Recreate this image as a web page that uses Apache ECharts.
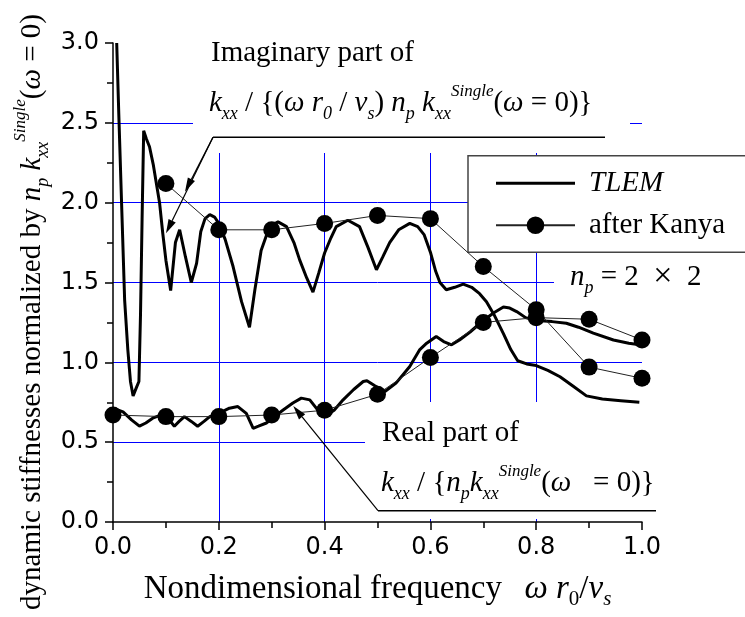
<!DOCTYPE html>
<html><head><meta charset="utf-8">
<script src="https://cdn.jsdelivr.net/npm/echarts@6/dist/echarts.min.js"></script>
<style>html,body{margin:0;padding:0;background:#fff}#c{width:745px;height:617px}</style>
</head><body><div id="c"></div>
<script>
// ---- data ----
const tlemImag = [[0.007,3.00],[0.011,2.55],[0.016,2.02],[0.022,1.39],[0.028,1.08],[0.033,0.88],[0.038,0.79],[0.044,0.84],[0.049,0.88],[0.052,1.30],[0.055,1.90],[0.058,2.45],[0.063,2.40],[0.069,2.35],[0.076,2.24],[0.082,2.12],[0.088,2.00],[0.094,1.81],[0.100,1.64],[0.109,1.45],[0.118,1.75],[0.126,1.83],[0.137,1.66],[0.148,1.50],[0.158,1.62],[0.166,1.82],[0.174,1.90],[0.183,1.925],[0.192,1.91],[0.200,1.87],[0.212,1.77],[0.227,1.60],[0.243,1.38],[0.258,1.22],[0.268,1.45],[0.280,1.70],[0.296,1.85],[0.312,1.88],[0.328,1.85],[0.342,1.75],[0.353,1.64],[0.366,1.53],[0.378,1.44],[0.389,1.56],[0.400,1.685],[0.412,1.78],[0.422,1.85],[0.444,1.89],[0.466,1.85],[0.482,1.72],[0.498,1.58],[0.510,1.66],[0.523,1.75],[0.540,1.83],[0.561,1.87],[0.576,1.85],[0.588,1.80],[0.600,1.69],[0.610,1.57],[0.618,1.50],[0.630,1.455],[0.646,1.47],[0.662,1.49],[0.678,1.47],[0.693,1.43],[0.706,1.38],[0.720,1.30],[0.738,1.18],[0.752,1.08],[0.765,1.01],[0.782,0.99],[0.800,0.98],[0.822,0.95],[0.845,0.91],[0.870,0.85],[0.895,0.79],[0.925,0.77],[0.960,0.76],[0.995,0.75]];
const tlemReal = [[0.000,0.713],[0.019,0.69],[0.035,0.64],[0.050,0.60],[0.062,0.62],[0.075,0.65],[0.090,0.67],[0.100,0.665],[0.116,0.60],[0.125,0.63],[0.135,0.66],[0.148,0.63],[0.160,0.60],[0.172,0.63],[0.183,0.66],[0.200,0.68],[0.220,0.713],[0.236,0.723],[0.252,0.68],[0.265,0.587],[0.275,0.60],[0.290,0.62],[0.305,0.66],[0.321,0.70],[0.340,0.745],[0.356,0.776],[0.372,0.765],[0.385,0.71],[0.400,0.66],[0.418,0.70],[0.435,0.765],[0.455,0.83],[0.473,0.88],[0.480,0.885],[0.495,0.853],[0.514,0.817],[0.535,0.87],[0.561,0.974],[0.580,1.08],[0.593,1.12],[0.611,1.162],[0.625,1.13],[0.640,1.11],[0.655,1.14],[0.675,1.19],[0.700,1.262],[0.720,1.31],[0.738,1.346],[0.750,1.34],[0.763,1.318],[0.780,1.28],[0.800,1.262],[0.830,1.255],[0.857,1.245],[0.880,1.22],[0.908,1.183],[0.946,1.14],[0.975,1.12],[0.996,1.11]];
const kanyaImagX = [0.1,0.2,0.3,0.4,0.5,0.6,0.7,0.8,0.9,1.0];
const kanyaImagY = [2.12,1.83,1.83,1.87,1.92,1.90,1.60,1.33,0.97,0.90];
const kanyaRealX = [0.0,0.1,0.2,0.3,0.4,0.5,0.6,0.7,0.8,0.9,1.0];
const kanyaRealY = [0.67,0.66,0.66,0.67,0.70,0.80,1.03,1.25,1.28,1.27,1.14];
const xTickLabels = ['0.0','0.2','0.4','0.6','0.8','1.0'];
const yTickLabels = ['0.0','0.5','1.0','1.5','2.0','2.5','3.0'];
const legendNames = ['TLEM','after Kanya'];

// ---- styling ----
const SERIF = "'Liberation Serif','Times New Roman',serif";
const SANS = "'DejaVu Sans',Arial,sans-serif";
function rs(size, italic, va, lh, pad) {
  const o = {fontFamily: SERIF, fontSize: size, fontStyle: italic ? 'italic' : 'normal', fill: '#000', color: '#000'};
  if (va) o.verticalAlign = va;
  if (lh) o.lineHeight = lh;
  if (pad) o.padding = pad;
  return o;
}
const RICH = {
  t: rs(29, false, null, 40),
  i: rs(29, true, null, 40),
  sub: rs(18, true, 'bottom'),
  subu: rs(18, false, 'bottom'),
  sup: rs(17, true, 'top'),
  x: rs(34, false, null, 40)
};
const XRICH = {
  t: rs(33, false, null, 42),
  i: rs(33, true, null, 42),
  w: rs(33, true, null, 42, [0, 0, 0, 6]),
  sub: rs(21, true, 'bottom'),
  subu: rs(21, false, 'bottom')
};

const chart = echarts.init(document.getElementById('c'), null, {renderer: 'canvas'});
const grid = {left: 113, right: 103, top: 43, bottom: 95};

function arrow(x1, y1, x2, y2) {
  const dx = x2 - x1, dy = y2 - y1, L = Math.hypot(dx, dy);
  const ux = dx / L, uy = dy / L, hl = 14, hw = 4;
  const bx = x2 - ux * hl, by = y2 - uy * hl;
  return [
    {type: 'line', shape: {x1, y1, x2: bx, y2: by}, style: {stroke: '#000', lineWidth: 1.2}, z: 6, silent: true},
    {type: 'polygon', shape: {points: [[x2, y2], [bx - uy * hw, by + ux * hw], [bx + uy * hw, by - ux * hw]]}, style: {fill: '#000'}, z: 6, silent: true}
  ];
}
function whiteBox(x, y, w, h) {
  return {type: 'rect', shape: {x, y, width: w, height: h}, style: {fill: '#fff'}, z: 1, silent: true};
}
function txt(x, y, text, extra) {
  return Object.assign({type: 'text', x, y, z: 6, silent: true,
    style: {text, fontFamily: SERIF, fontSize: 29, lineHeight: 40, fill: '#000', align: 'left', verticalAlign: 'top', rich: RICH}}, extra || {});
}

const yTitle = txt(32, 312, 'dynamic stiffnesses normalized by {i|n}{sub|p}{t| }{i|k}{sub|xx}{sup|Single}{t|(}{i|\u03c9}{t| = 0)}',
  {rotation: Math.PI / 2});
yTitle.style.align = 'center';
yTitle.style.verticalAlign = 'middle';

const graphics = [
  whiteBox(193, 20, 437, 133),
  whiteBox(554, 262, 160, 40),
  whiteBox(365, 402, 300, 117),
  txt(211, 33, 'Imaginary part of'),
  txt(209, 83, '{i|k}{sub|xx}{t| / {(}{i|\u03c9 r}{sub|0}{t| / }{i|v}{sub|s}{t|) }{i|n}{sub|p}{t| }{i|k}{sub|xx}{sup|Single}{t|(}{i|\u03c9}{t| = 0)}}'),
  {type: 'line', shape: {x1: 213, y1: 137.3, x2: 605, y2: 137.3}, style: {stroke: '#000', lineWidth: 1.5}, z: 6, silent: true},
  ...arrow(213, 137.3, 185, 191.7),
  ...arrow(213, 137.3, 166, 233.3),
  txt(382, 413, 'Real part of'),
  txt(381, 463, '{i|k}{sub|xx}{t| / {}{i|n}{sub|p}{i|k}{sub|xx}{sup|Single}{t|(}{i|\u03c9}{t|   = 0)}}'),
  {type: 'line', shape: {x1: 378, y1: 510.7, x2: 656, y2: 510.7}, style: {stroke: '#000', lineWidth: 1.5}, z: 6, silent: true},
  ...arrow(378, 510.7, 293.3, 406),
  txt(570, 257, '{i|n}{sub|p}{t| = 2  }{x|\u00d7}{t|  2}'),
  yTitle
];

const option = {
  backgroundColor: '#fff',
  animation: false,
  grid,
  legend: {
    data: [{name: legendNames[0], icon: 'path://M0 0H79V3H0Z'}, {name: legendNames[1]}],
    orient: 'vertical', left: 468, top: 155.7,
    padding: [12.6, 220, 12, 27],
    itemWidth: 79, itemHeight: 22, itemGap: 12,
    borderColor: '#444', borderWidth: 1.5, backgroundColor: '#fff',
    textStyle: {fontFamily: SERIF, fontSize: 29, lineHeight: 30, color: '#000', padding: [0, 0, 0, 9],
      rich: {it: {fontFamily: SERIF, fontSize: 29, fontStyle: 'italic', color: '#000', lineHeight: 30}}},
    formatter: n => n === 'TLEM' ? '{it|TLEM}' : n,
    selectedMode: false
  },
  xAxis: {
    type: 'value', min: 0, max: 1, interval: 0.2,
    axisLine: {lineStyle: {color: '#000', width: 1.5}},
    axisTick: {length: 8, lineStyle: {color: '#000', width: 1.5}},
    minorTick: {show: true, splitNumber: 2, length: 6, lineStyle: {color: '#000', width: 1.5}},
    splitLine: {show: true, showMinLine: false, showMaxLine: false, lineStyle: {color: '#0000ff', width: 1}},
    axisLabel: {fontFamily: SANS, fontSize: 24, color: '#000', margin: 14, showMinLabel: true, showMaxLabel: true,
      formatter: v => xTickLabels[Math.round(v / 0.2)]},
    name: 'Nondimensional frequency  {w|\u03c9 }{i|r}{subu|0}{t|/}{i|v}{sub|s}',
    nameLocation: 'middle', nameGap: 46,
    nameTextStyle: {fontFamily: SERIF, fontSize: 33, lineHeight: 42, color: '#000', rich: XRICH}
  },
  yAxis: {
    type: 'value', min: 0, max: 3, interval: 0.5,
    axisLine: {show: true, lineStyle: {color: '#000', width: 1.5}},
    axisTick: {show: true, length: 8, lineStyle: {color: '#000', width: 1.5}},
    minorTick: {show: true, splitNumber: 2, length: 6, lineStyle: {color: '#000', width: 1.5}},
    splitLine: {show: true, showMinLine: false, showMaxLine: false, lineStyle: {color: '#0000ff', width: 1}},
    axisLabel: {fontFamily: SANS, fontSize: 24, color: '#000', margin: 14, showMinLabel: true, showMaxLabel: true,
      formatter: v => yTickLabels[Math.round(v / 0.5)]}
  },
  series: [
    {name: 'TLEM', type: 'line', data: tlemImag, symbol: 'none', clip: true,
      lineStyle: {color: '#000', width: 3}, itemStyle: {color: '#000'}, z: 3},
    {name: 'TLEM', type: 'line', data: tlemReal, symbol: 'none', clip: true,
      lineStyle: {color: '#000', width: 3}, itemStyle: {color: '#000'}, z: 3},
    {name: 'after Kanya', type: 'line', data: kanyaImagX.map((x, i) => [x, kanyaImagY[i]]),
      symbol: 'circle', symbolSize: 17, lineStyle: {color: '#222', width: 1}, itemStyle: {color: '#000'}, z: 4},
    {name: 'after Kanya', type: 'line', data: kanyaRealX.map((x, i) => [x, kanyaRealY[i]]),
      symbol: 'circle', symbolSize: 17, lineStyle: {color: '#222', width: 1}, itemStyle: {color: '#000'}, z: 4}
  ],
  graphic: {elements: graphics}
};
chart.setOption(option);
</script></body></html>
